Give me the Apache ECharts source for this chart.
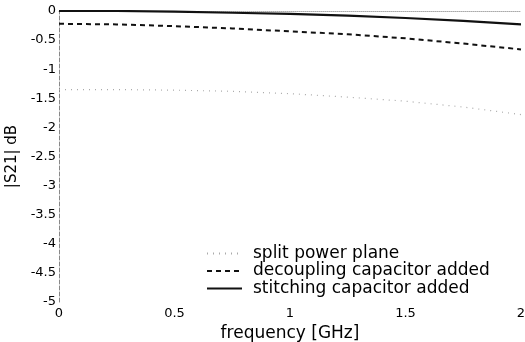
<!DOCTYPE html>
<html><head><meta charset="utf-8">
<script src="https://cdn.jsdelivr.net/npm/echarts@6/dist/echarts.min.js"></script>
<style>html,body{margin:0;padding:0;background:#fff}#c{width:525px;height:342px}</style>
</head><body><div id="c"></div>
<script>
const freq = [0, 0.25, 0.5, 0.75, 1.0, 1.25, 1.5, 1.75, 2.0];
const splitPlane = [-1.35, -1.35, -1.36, -1.38, -1.42, -1.48, -1.55, -1.65, -1.78];
const decoupling = [-0.22, -0.23, -0.26, -0.30, -0.35, -0.40, -0.47, -0.56, -0.66];
const stitching = [0, 0, -0.01, -0.03, -0.05, -0.08, -0.12, -0.17, -0.23];
const names = ['split power plane', 'decoupling capacitor added', 'stitching capacitor added'];
const pairs = a => freq.map((f, i) => [f, a[i]]);
const chart = echarts.init(document.getElementById('c'));
const font = 'DejaVu Sans, sans-serif';
chart.setOption({
  animation: false,
  grid: {left: 59, right: 4, top: 11, bottom: 40, containLabel: false, outerBoundsMode: 'none'},
  xAxis: {type: 'value', min: 0, max: 2, interval: 0.5,
    name: 'frequency [GHz]', nameLocation: 'middle', nameGap: 7,
    nameTextStyle: {fontFamily: font, fontSize: 17, color: '#000'},
    axisLine: {lineStyle: {color: '#aaa', width: 1, type: 'dotted'}},
    axisTick: {show: false},
    splitLine: {show: false},
    axisLabel: {fontFamily: font, fontSize: 13, color: '#000', margin: 5}},
  yAxis: {type: 'value', min: -5, max: 0, interval: 0.5,
    name: '|S21| dB', nameLocation: 'middle', nameGap: 38,
    nameTextStyle: {fontFamily: font, fontSize: 15, color: '#000'},
    axisLine: {show: true, lineStyle: {color: '#888', width: 1, type: 'dashed'}},
    axisTick: {show: false},
    splitLine: {show: false},
    axisLabel: {fontFamily: font, fontSize: 13, color: '#000', margin: 3}},
  legend: {orient: 'vertical', left: 206, top: 245, padding: 0, itemGap: 0.5, itemWidth: 35, itemHeight: 12,
    itemStyle: {opacity: 0},
    textStyle: {fontFamily: font, fontSize: 17, lineHeight: 17, color: '#000', padding: [0, 0, 0, 6]},
    data: names},
  series: [
    {name: names[0], type: 'line', data: pairs(splitPlane), symbol: 'none',
      lineStyle: {color: '#aaa', width: 1.2, type: [1, 5]}},
    {name: names[1], type: 'line', data: pairs(decoupling), symbol: 'none',
      lineStyle: {color: '#111', width: 2, type: [5, 4]}},
    {name: names[2], type: 'line', data: pairs(stitching), symbol: 'none',
      lineStyle: {color: '#111', width: 2.2, type: 'solid'}}
  ]
});
</script></body></html>
